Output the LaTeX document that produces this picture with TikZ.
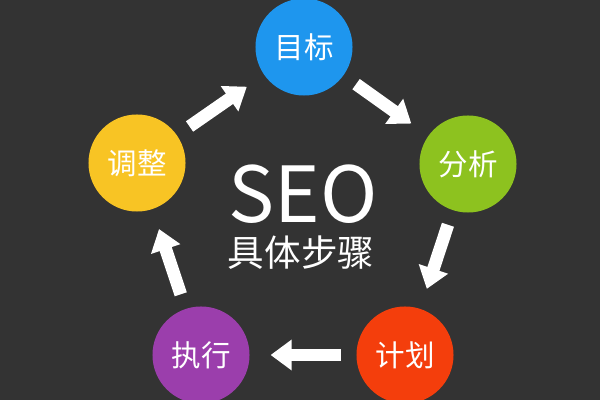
\documentclass[tikz,border=0pt]{standalone}
\usepackage{fontspec}
\setmainfont{Noto Sans CJK SC}
\usetikzlibrary{arrows.meta}
\definecolor{bgdark}{RGB}{51,51,51}
\definecolor{mbblue}{RGB}{30,150,238}
\definecolor{fxgreen}{RGB}{141,194,31}
\definecolor{jhred}{RGB}{244,62,12}
\definecolor{zxpurple}{RGB}{155,62,172}
\definecolor{tzyellow}{RGB}{248,196,36}
\tikzset{>={Triangle[width=21pt,length=15pt]}}
\tikzset{
  step dot/.style={circle,minimum size=2.425cm,inner sep=0pt,outer sep=0pt,
    text=white,font=\fontsize{21}{21}\selectfont},
  flow/.style={->,white,line width=9pt,shorten <=11pt,shorten >=15pt}
}

\begin{document}
\begin{tikzpicture}[x=0.025cm,y=-0.025cm]
    \fill[bgdark] (0,0) rectangle (600,400);
    \useasboundingbox (0,0) rectangle (600,400);
    % the five steps
    \node[step dot,fill=mbblue] (mb) at (304,47) {目标};
    \node[step dot,fill=fxgreen] (fx) at (468,164) {分析};
    \node[step dot,fill=jhred] (jh) at (405,355) {计划};
    \node[step dot,fill=zxpurple] (zx) at (201,355) {执行};
    \node[step dot,fill=tzyellow] (tz) at (137,163) {调整};
    % centre title
    \node[white,font=\fontsize{55}{55}\selectfont] (seo) at (303,194) {SEO};
    \node[white,font=\fontsize{26}{26}\selectfont] (bz) at (301,253) {具体步骤};
    % arrows round the cycle
    \draw[flow] (tz) -- (mb);
    \draw[flow] (mb) -- (fx);
    \draw[flow] (fx) -- (jh);
    \draw[flow] (jh) -- (zx);
    \draw[flow] (zx) -- (tz);
\end{tikzpicture}
\end{document}
